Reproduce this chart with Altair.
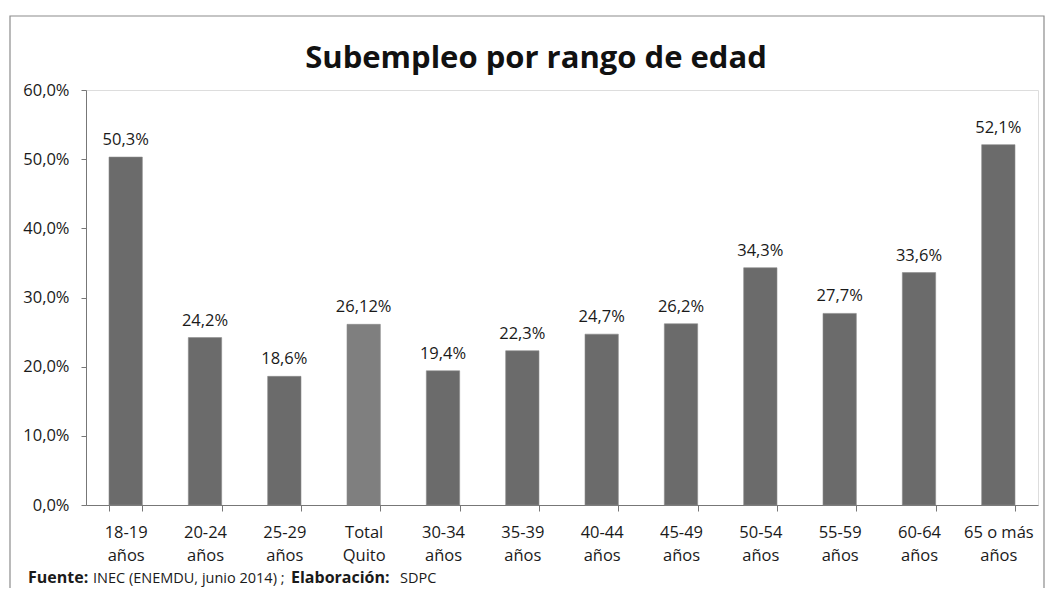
import altair as alt
import pandas as pd

categories = ["18-19 años", "20-24 años", "25-29 años", "Total Quito", "30-34 años",
              "35-39 años", "40-44 años", "45-49 años", "50-54 años", "55-59 años",
              "60-64 años", "65 o más años"]
values = [0.503, 0.242, 0.186, 0.2612, 0.194, 0.223, 0.247, 0.262, 0.343, 0.277, 0.336, 0.521]
value_labels = ["50,3%", "24,2%", "18,6%", "26,12%", "19,4%", "22,3%", "24,7%", "26,2%",
                "34,3%", "27,7%", "33,6%", "52,1%"]
groups = ["age", "age", "age", "total", "age", "age", "age", "age", "age", "age", "age", "age"]

title_text = "Subempleo por rango de edad"
footer_parts = ["Fuente:", "INEC (ENEMDU, junio 2014) ;", "Elaboración:", "SDPC"]

df = pd.DataFrame({"cat": categories, "val": values, "lab": value_labels, "grp": groups})

FONT = "Open Sans"
W, H = 952, 415
TXT = "#1a1a1a"

x = alt.X("cat:N", sort=categories, title=None,
          scale=alt.Scale(paddingInner=0.58, paddingOuter=0.29),
          axis=alt.Axis(labelAngle=0, tickBand="extent", tickSize=6, tickColor="#777",
                        domainColor="#777", labelFontSize=16.5, labelColor=TXT,
                        labelFont=FONT, labelPadding=13, labelLineHeight=23,
                        labelExpr="[substring(datum.label,0,lastindexof(datum.label,' ')), substring(datum.label,lastindexof(datum.label,' ')+1)]"))
y = alt.Y("val:Q", title=None,
          scale=alt.Scale(domain=[0, 0.6], nice=False),
          axis=alt.Axis(values=[0, 0.1, 0.2, 0.3, 0.4, 0.5, 0.6], grid=False,
                        tickSize=5, tickColor="#777", domainColor="#777",
                        labelFontSize=16.5, labelColor=TXT, labelFont=FONT,
                        labelPadding=12,
                        labelExpr="replace(format(datum.value, '.1%'), '.', ',')"))

base = alt.Chart(df)

bars = base.mark_bar(stroke="#8a8a8a", strokeWidth=0.6).encode(
    x=x, y=y,
    color=alt.Color("grp:N", scale=alt.Scale(domain=["age", "total"],
                                             range=["#6b6b6b", "#7f7f7f"]), legend=None),
)

labels = base.mark_text(dy=-12, baseline="alphabetic", fontSize=16.5, font=FONT,
                        color=TXT).encode(
    x=alt.X("cat:N", sort=categories), y="val:Q", text="lab:N")

one = pd.DataFrame({"k": [0]})

frame = alt.Chart(one).mark_rect(
    fill=None, stroke="#8c8c8c", strokeWidth=1.2).encode(
    x=alt.value(-76), y=alt.value(-74), x2=alt.value(958), y2=alt.value(520))

title = alt.Chart(one).mark_text(
    align="center", baseline="alphabetic", fontSize=31, font=FONT, fontWeight="bold",
    color="#111", text=title_text).encode(x=alt.value(450), y=alt.value(-22))

footer_x = [-58, 7, 205, 314]
footer_w = ["bold", "normal", "bold", "normal"]
footer_s = [16, 14.5, 16, 14.5]
footer_layers = []
for txt, fx, fw, fs in zip(footer_parts, footer_x, footer_w, footer_s):
    footer_layers.append(
        alt.Chart(one).mark_text(align="left", baseline="alphabetic", fontSize=fs,
                                 font=FONT, fontWeight=fw, color=TXT, text=txt)
        .encode(x=alt.value(fx), y=alt.value(493)))

chart = alt.layer(frame, bars, labels, title, *footer_layers).properties(
    width=W, height=H,
    autosize=alt.AutoSizeParams(type="none"),
    padding={"left": 78, "top": 82, "right": 7, "bottom": 83},
).configure_view(stroke=None).configure(background="white")

chart.save("out.html", embed_options={"renderer": "svg", "actions": False})
